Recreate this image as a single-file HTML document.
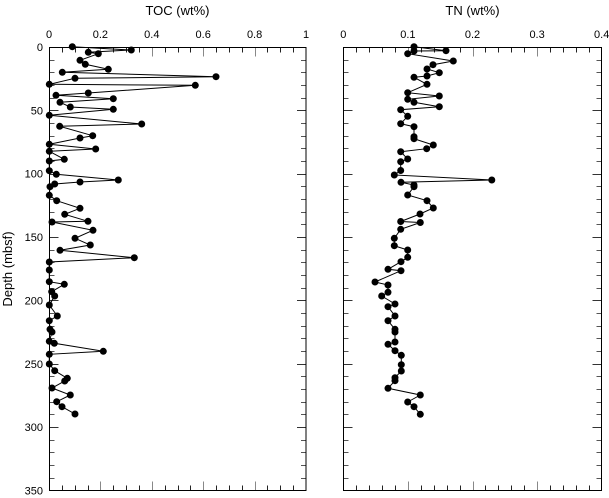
<!DOCTYPE html>
<html><head><meta charset="utf-8"><style>
html,body{margin:0;padding:0;background:#fff;}
svg{display:block;}
text{font-family:"Liberation Sans",Arial,sans-serif;fill:#000;}
</style></head><body>
<svg id="c" width="609" height="498" viewBox="0 0 609 498" xmlns="http://www.w3.org/2000/svg">
<g id="ticks"></g>
<rect x="49.5" y="47.5" width="256.5" height="443" fill="none" stroke="#000" stroke-width="1"/>
<rect x="343.5" y="47.5" width="258" height="443" fill="none" stroke="#000" stroke-width="1"/>
<text x="177.5" y="15" font-size="13" text-anchor="middle">TOC (wt%)</text>
<text x="472.5" y="15" font-size="13" text-anchor="middle">TN (wt%)</text>
<text x="49" y="38" font-size="11" text-anchor="middle">0</text>
<text x="100.4" y="38" font-size="11" text-anchor="middle">0.2</text>
<text x="151.8" y="38" font-size="11" text-anchor="middle">0.4</text>
<text x="203.2" y="38" font-size="11" text-anchor="middle">0.6</text>
<text x="254.6" y="38" font-size="11" text-anchor="middle">0.8</text>
<text x="306" y="38" font-size="11" text-anchor="middle">1</text>
<text x="343.3" y="38" font-size="11" text-anchor="middle">0</text>
<text x="407.9" y="38" font-size="11" text-anchor="middle">0.1</text>
<text x="472.5" y="38" font-size="11" text-anchor="middle">0.2</text>
<text x="537.1" y="38" font-size="11" text-anchor="middle">0.3</text>
<text x="601.7" y="38" font-size="11" text-anchor="middle">0.4</text>
<text x="43" y="51" font-size="11" text-anchor="end">0</text>
<text x="43" y="114.4" font-size="11" text-anchor="end">50</text>
<text x="43" y="177.7" font-size="11" text-anchor="end">100</text>
<text x="43" y="241.1" font-size="11" text-anchor="end">150</text>
<text x="43" y="304.4" font-size="11" text-anchor="end">200</text>
<text x="43" y="367.8" font-size="11" text-anchor="end">250</text>
<text x="43" y="431.1" font-size="11" text-anchor="end">300</text>
<text x="43" y="494.5" font-size="11" text-anchor="end">350</text>
<text transform="translate(12,269) rotate(-90)" font-size="13" text-anchor="middle">Depth (mbsf)</text>
<g id="series"></g>
</svg>
<script>
(function(){
var NS="http://www.w3.org/2000/svg";
var t=document.getElementById("ticks");
function ln(x1,y1,x2,y2,c){var l=document.createElementNS(NS,"line");l.setAttribute("x1",x1);l.setAttribute("y1",y1);l.setAttribute("x2",x2);l.setAttribute("y2",y2);l.setAttribute("stroke",c);l.setAttribute("stroke-width","1");t.appendChild(l);}
var top=47.5,bot=490.5;
// TOC x ticks
for(var k=1;k<20;k++){var x=Math.round(49+k*12.85)+0.5;var maj=(k%4==0);var L=maj?9:5;var c=maj?"#888":"#222";ln(x,top,x,top+L,c);ln(x,bot,x,bot-L,c);}
// TN x ticks
for(var k=1;k<20;k++){var x=Math.round(343.3+k*12.92)+0.5;var maj=(k%5==0);var L=maj?9:5;var c=maj?"#888":"#222";ln(x,top,x,top+L,c);ln(x,bot,x,bot-L,c);}
// y ticks
for(var k=1;k<35;k++){var y=Math.round(47+k*12.671)+0.5;var maj=(k%5==0);var L=maj?9:5;var c=maj?"#333":"#555";
ln(49.5,y,49.5+L,y,c);ln(306,y,306-L,y,c);ln(343.5,y,343.5+L,y,c);ln(601.5,y,601.5-L,y,c);}
var toc=[[72.3,46.7],[131.3,50],[88.3,52.3],[98.3,53.7],[80,60.3],[85.3,64.3],[108.3,69.3],[62.3,72.3],[216,76.7],[75,78.3],[49.3,84.3],[195.3,85.3],[88.3,93],[56,95.3],[113.3,98.7],[60,102.3],[70.3,107],[113.3,109.3],[49.3,115.3],[141.7,124],[59.7,126.3],[92.7,135.7],[80,138],[49.3,144.3],[95.7,149],[49.3,151.3],[64.3,159.3],[49.3,161],[49.3,170.7],[56.3,174.3],[118.3,180],[80,182],[54.7,184],[50,186.7],[49.3,195.3],[56.7,200.7],[80,208.3],[64.7,214.3],[88,221.3],[52,222],[93,230.3],[75,238.3],[90.3,245],[60,250.3],[134.3,257.7],[49.3,262],[49.3,270],[49.3,281.7],[64.3,284.3],[51.7,291.7],[54.7,296],[49.3,305],[57.3,316],[49.3,320.7],[50,329.3],[52,332],[49.3,341.3],[54.3,343.3],[103.3,351.3],[49.3,354.3],[49.3,364],[54.7,370.7],[67.3,378.3],[64.7,381],[52,388],[70.3,395],[56.7,401.7],[62,406.7],[75,414]];
var tn=[[414,46.7],[446,50.7],[414,51],[407.7,53.7],[453.3,61],[433,64.7],[427,69],[439.3,72.7],[427,76],[414,77.3],[427,84.3],[407.7,92.7],[439.3,96],[407.7,99.3],[414,102.3],[439.3,106.7],[400.7,109.7],[407.7,116.3],[400.7,123.7],[414,126.7],[414,136.7],[414,138.7],[433.3,145],[426.7,148.7],[400.7,151.7],[407.7,159],[400.7,161.7],[400.7,170.5],[394.3,175],[491.8,180],[401,182.3],[414,185],[414,186.7],[407.7,195],[427,200.7],[433.3,208],[420,214],[400.7,221.5],[420.3,222.5],[400.7,229.3],[394.3,238.3],[394.3,245.7],[407.7,250],[407.7,257.3],[401,261.7],[388,269.3],[401,270.7],[375,282],[388,285],[388,292.3],[381.7,296],[395,304],[388,306.7],[395,316],[388,320.7],[395,329.3],[395,332],[395,342],[388,344.3],[395,350.7],[401.3,355.3],[401.3,364.7],[401.3,371],[395,377.7],[395,380.7],[388,388.3],[420.3,395],[407.7,402],[414,406.7],[420.3,414.3]];
var s=document.getElementById("series");
function draw(d){var p=document.createElementNS(NS,"polyline");p.setAttribute("points",d.map(function(a){return a[0]+","+a[1];}).join(" "));p.setAttribute("fill","none");p.setAttribute("stroke","#000");p.setAttribute("stroke-width","1");s.appendChild(p);
d.forEach(function(a){var c=document.createElementNS(NS,"circle");c.setAttribute("cx",a[0]);c.setAttribute("cy",a[1]);c.setAttribute("r","3.5");c.setAttribute("fill","#000");s.appendChild(c);});}
draw(toc);draw(tn);
})();
</script>
</body></html>
